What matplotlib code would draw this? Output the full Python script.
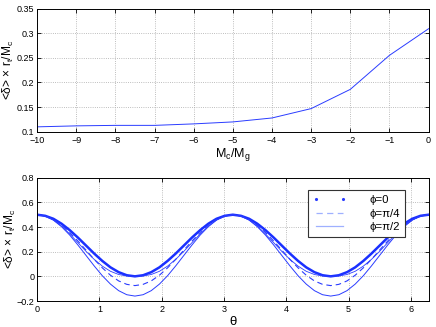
import numpy as np
import matplotlib
matplotlib.use("Agg")
import matplotlib.pyplot as plt
from matplotlib.lines import Line2D

plt.rcParams['font.family'] = ['Liberation Sans', 'DejaVu Sans']
plt.rcParams['mathtext.fontset'] = 'custom'
plt.rcParams['mathtext.rm'] = 'Liberation Sans'
plt.rcParams['mathtext.it'] = 'Liberation Sans:italic'

# Top panel: mean overdensity vs mass ratio (log)
mass_ratio = [-10, -9, -8, -7, -6, -5, -4, -3, -2, -1, 0]
delta_mean = [0.110, 0.112, 0.113, 0.113, 0.116, 0.120, 0.128, 0.147, 0.186, 0.255, 0.309]

# Bottom panel: angular profiles (49 samples from 0 to 2*pi)
theta = np.linspace(0, 2 * np.pi, 49)
phi_0 = [0.500, 0.491, 0.467, 0.427, 0.375, 0.315, 0.250, 0.185, 0.125, 0.073, 0.034, 0.009, 0.000,
         0.009, 0.034, 0.073, 0.125, 0.185, 0.250, 0.315, 0.375, 0.427, 0.467, 0.491, 0.500,
         0.491, 0.467, 0.427, 0.375, 0.315, 0.250, 0.185, 0.125, 0.073, 0.034, 0.009, 0.000,
         0.009, 0.034, 0.073, 0.125, 0.185, 0.250, 0.315, 0.375, 0.427, 0.467, 0.491, 0.500]
phi_mid = [0.500, 0.489, 0.457, 0.408, 0.344, 0.274, 0.203, 0.138, 0.083, 0.041, 0.015, 0.003, 0.000,
           0.003, 0.015, 0.041, 0.083, 0.138, 0.203, 0.274, 0.344, 0.408, 0.457, 0.489, 0.500,
           0.489, 0.457, 0.408, 0.344, 0.274, 0.203, 0.138, 0.083, 0.041, 0.015, 0.003, 0.000,
           0.003, 0.015, 0.041, 0.083, 0.138, 0.203, 0.274, 0.344, 0.408, 0.457, 0.489, 0.500]
phi_pi4 = [0.500, 0.490, 0.462, 0.416, 0.356, 0.287, 0.213, 0.138, 0.069, 0.009, -0.037, -0.065, -0.075,
           -0.065, -0.037, 0.009, 0.069, 0.138, 0.213, 0.287, 0.356, 0.416, 0.462, 0.490, 0.500,
           0.490, 0.462, 0.416, 0.356, 0.287, 0.213, 0.138, 0.069, 0.009, -0.037, -0.065, -0.075,
           -0.065, -0.037, 0.009, 0.069, 0.138, 0.213, 0.287, 0.356, 0.416, 0.462, 0.490, 0.500]
phi_pi2 = [0.500, 0.489, 0.456, 0.403, 0.335, 0.255, 0.170, 0.085, 0.005, -0.063, -0.116, -0.149, -0.160,
           -0.149, -0.116, -0.063, 0.005, 0.085, 0.170, 0.255, 0.335, 0.403, 0.456, 0.489, 0.500,
           0.489, 0.456, 0.403, 0.335, 0.255, 0.170, 0.085, 0.005, -0.063, -0.116, -0.149, -0.160,
           -0.149, -0.116, -0.063, 0.005, 0.085, 0.170, 0.255, 0.335, 0.403, 0.456, 0.489, 0.500]

ylab = '<\u03b4> \u00d7 r$_{\\rm t}$/M$_{\\rm c}$'


def style(ax):
    ax.grid(True, linestyle=':', color='#a8a8a8', linewidth=0.6)
    ax.tick_params(direction='in', top=True, right=True, labelsize=6.5, length=3, width=0.6, pad=2)
    ax.tick_params(axis='x', pad=3)
    for s in ax.spines.values():
        s.set_linewidth(0.7)


fig = plt.figure(figsize=(4.36, 3.27), dpi=100)

ax1 = fig.add_axes([0.085, 0.597, 0.898, 0.377])
ax1.plot(mass_ratio, delta_mean, color='#2a3cff', lw=0.7)
ax1.set_xlim(-10, 0)
ax1.set_ylim(0.1, 0.35)
ax1.set_xticks(range(-10, 1))
ax1.set_yticks([0.1, 0.15, 0.2, 0.25, 0.3, 0.35])
ax1.set_yticklabels(['0.1', '0.15', '0.2', '0.25', '0.3', '0.35'])
ax1.set_xlabel('M$_{\\rm c}$/M$_{\\rm g}$', fontsize=9, labelpad=1)
ax1.set_ylabel(ylab, fontsize=8.6)
ax1.yaxis.set_label_coords(-0.054, 0.5)
style(ax1)

ax2 = fig.add_axes([0.085, 0.0795, 0.898, 0.377])
ax2.plot(theta, phi_0, color='#1a30ff', lw=1.8)
ax2.plot(theta, phi_mid, color='#2a3cff', lw=0.6)
ax2.plot(theta, phi_pi4, color='#2a3cff', lw=0.8, dashes=(5, 3.5))
ax2.plot(theta, phi_pi2, color='#2a3cff', lw=0.7)
ax2.set_xlim(0, 2 * np.pi)
ax2.set_ylim(-0.2, 0.8)
ax2.set_xticks(range(0, 7))
ax2.set_yticks([-0.2, 0, 0.2, 0.4, 0.6, 0.8])
ax2.set_yticklabels(['\u22120.2', '0', '0.2', '0.4', '0.6', '0.8'])
ax2.set_xlabel('\u03b8', fontsize=9.5, labelpad=1)
ax2.set_ylabel(ylab, fontsize=8.6)
ax2.yaxis.set_label_coords(-0.048, 0.5)
style(ax2)

handles = [
    Line2D([], [], color='#2a3cff', marker='.', markersize=2.5, linestyle='none'),
    Line2D([], [], color='#9fb0ff', lw=0.9, dashes=(5, 3.5)),
    Line2D([], [], color='#9fb0ff', lw=0.9),
]
leg = ax2.legend(handles, ['\u03d5=0', '\u03d5=\u03c0/4', '\u03d5=\u03c0/2'],
                 loc='upper right', fontsize=8.2, numpoints=2, handlelength=3.0,
                 fancybox=False, framealpha=1, edgecolor='#333333',
                 borderpad=0.45, labelspacing=0.3, handletextpad=2.0,
                 bbox_to_anchor=(0.955, 0.945))
leg.get_frame().set_linewidth(0.8)

fig.savefig('out.png', dpi=100)
